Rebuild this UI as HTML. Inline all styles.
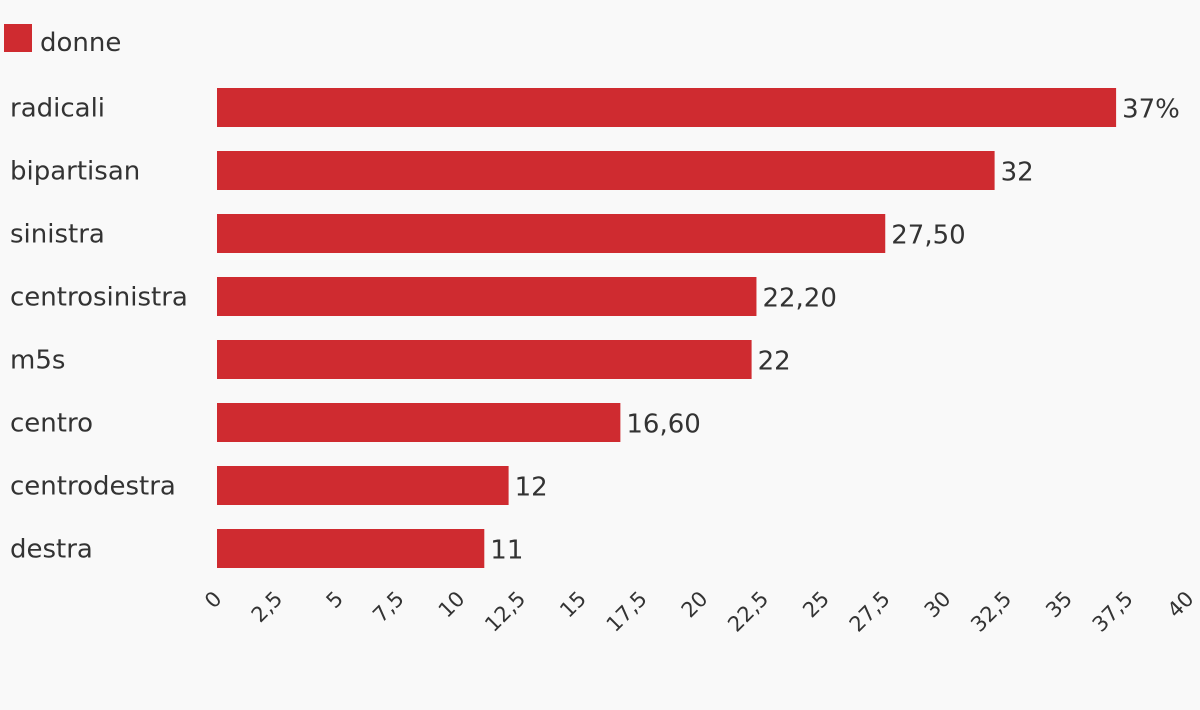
<!DOCTYPE html>
<html><head><meta charset="utf-8"><style>
html,body{margin:0;padding:0;background:#f9f9f9;}
svg{display:block;font-family:"DejaVu Sans","Liberation Sans",sans-serif;}
</style></head><body>
<svg id="chart" width="1200" height="710" viewBox="0 0 1200 710">
<rect x="0" y="0" width="1200" height="710" fill="#f9f9f9"/>
<g>
<rect x="4" y="24" width="28" height="28" fill="#cf2b30"/>
<text x="40" y="51" font-size="26" fill="#333">donne</text>
</g>
<g id="bars"></g>
<g id="ticks"></g>
</svg>
<script>
const categories=["radicali","bipartisan","sinistra","centrosinistra","m5s","centro","centrodestra","destra"];
const values=[37,32,27.5,22.2,22,16.6,12,11];
const valueLabels=["37%","32","27,50","22,20","22","16,60","12","11"];
const tickValues=[0,2.5,5,7.5,10,12.5,15,17.5,20,22.5,25,27.5,30,32.5,35,37.5,40];
const tickLabels=["0","2,5","5","7,5","10","12,5","15","17,5","20","22,5","25","27,5","30","32,5","35","37,5","40"];

const NS="http://www.w3.org/2000/svg";
const x0=217, x1=1189, xMax=40;
const xs=v=>x0+(x1-x0)*v/xMax;
const rowTop=88, rowStep=63, barH=39;
const ys=i=>rowTop+rowStep*i;
const bars=document.getElementById('bars');
categories.forEach((c,i)=>{
  const t=document.createElementNS(NS,'text');
  t.setAttribute('x',10);t.setAttribute('y',ys(i)+barH/2+9);
  t.setAttribute('font-size','26');t.setAttribute('fill','#333');
  t.textContent=c;
  
  
  bars.appendChild(t);
  const r=document.createElementNS(NS,'rect');
  r.setAttribute('x',xs(0));r.setAttribute('y',ys(i));
  r.setAttribute('width',xs(values[i])-xs(0));r.setAttribute('height',barH);
  r.setAttribute('fill','#cf2b30');
  
  
  bars.appendChild(r);
  const v=document.createElementNS(NS,'text');
  v.setAttribute('x',xs(values[i])+6);v.setAttribute('y',ys(i)+barH/2+10);
  v.setAttribute('font-size','26');v.setAttribute('fill','#333');
  v.textContent=valueLabels[i];
  
  
  bars.appendChild(v);
});
const ticks=document.getElementById('ticks');
tickValues.forEach((tv,i)=>{
  const t=document.createElementNS(NS,'text');
  const x=xs(tv)+6, y=600;
  t.setAttribute('x',x);t.setAttribute('y',y);
  t.setAttribute('text-anchor','end');
  t.setAttribute('transform','rotate(-45 '+x+' '+y+')');
  t.setAttribute('font-size','21');t.setAttribute('fill','#333');
  t.textContent=tickLabels[i];
  
  
  ticks.appendChild(t);
});
</script>
</body></html>
